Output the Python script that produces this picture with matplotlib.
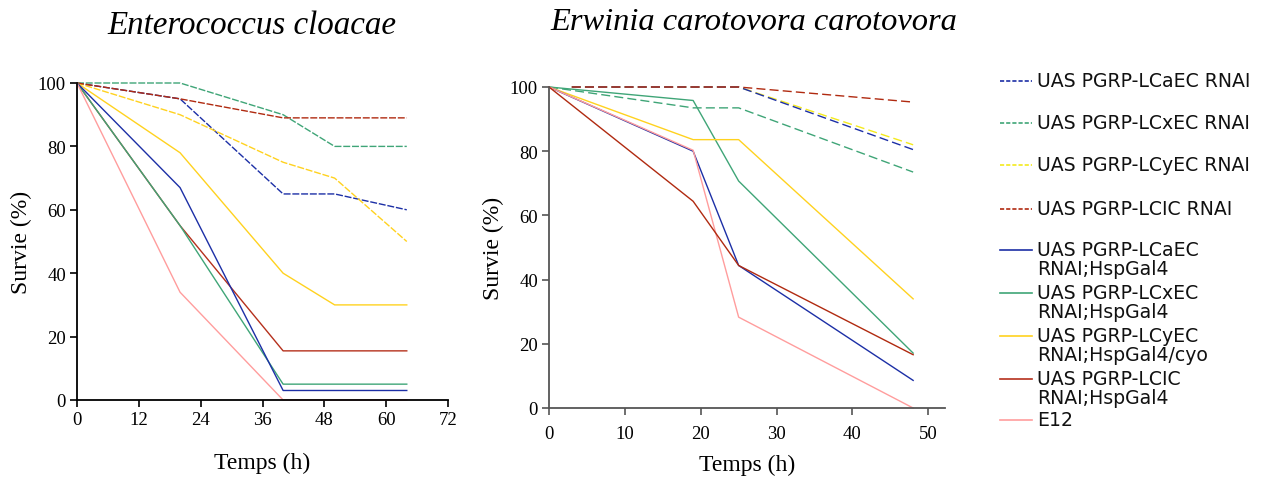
import matplotlib
matplotlib.use("Agg")
import matplotlib.pyplot as plt

# Enterococcus cloacae (left)
ec_time = [0, 20, 40, 50, 64]
ec_lcaec_rnai = [100, 95, 65, 65, 60]
ec_lcxec_rnai = [100, 100, 90, 80, 80]
ec_lcyec_rnai = [100, 90, 75, 70, 50]
ec_lcic_rnai = [100, 95, 89, 89, 89]
ec_lcaec_gal4 = [100, 67, 3, 3, 3]
ec_lcxec_gal4 = [100, 55, 5, 5, 5]
ec_lcyec_gal4 = [100, 78, 40, 30, 30]
ec_lcic_gal4 = [100, 55, 15.5, 15.5, 15.5]
ec_e12 = [100, 34, 0, 0, 0]

# Erwinia carotovora carotovora (right)
er_time = [0, 19, 25, 48]
er_time_late = [3, 19, 25, 48]
er_lcaec_rnai = [100, 100, 100, 80.5]
er_lcxec_rnai = [100, 93.5, 93.5, 73.5]
er_lcyec_rnai = [100, 100, 100, 82]
er_lcic_rnai = [100, 100, 100, 95.3]
er_lcaec_gal4 = [100, 80, 44.4, 8.6]
er_lcxec_gal4 = [100, 95.8, 70.7, 17.1]
er_lcyec_gal4 = [100, 83.6, 83.6, 34]
er_lcic_gal4 = [100, 64.4, 44.4, 16.6]
er_e12 = [100, 80.3, 28.3, 0]

legend_labels = [
    "UAS PGRP-LCaEC RNAI",
    "UAS PGRP-LCxEC RNAI",
    "UAS PGRP-LCyEC RNAI",
    "UAS PGRP-LCIC RNAI",
    "UAS PGRP-LCaEC\nRNAI;HspGal4",
    "UAS PGRP-LCxEC\nRNAI;HspGal4",
    "UAS PGRP-LCyEC\nRNAI;HspGal4/cyo",
    "UAS PGRP-LCIC\nRNAI;HspGal4",
    "E12",
]

BLUE = "#1c2fa6"
GREEN = "#3fa577"
YELLOW = "#ffd21f"
BRIGHT_YELLOW = "#f4ea1c"
DRED = "#b02a10"
RED = "#b5301c"
PINK = "#ff9d9d"

serif = ["Liberation Serif", "DejaVu Serif"]

fig = plt.figure(figsize=(12.62, 4.85), dpi=100)
W, H = 1262.0, 485.0


def px_axes(x0, y_top, x1, y_bot):
    return fig.add_axes([x0 / W, 1 - y_bot / H, (x1 - x0) / W, (y_bot - y_top) / H])


def style(ax, spine_color):
    for s in ["top", "right"]:
        ax.spines[s].set_visible(False)
    for s in ["left", "bottom"]:
        ax.spines[s].set_color(spine_color)
        ax.spines[s].set_linewidth(1.3)
    ax.tick_params(direction="out", length=5, width=1.2, color=spine_color,
                   labelsize=13.5, pad=3)
    for lab in ax.get_xticklabels() + ax.get_yticklabels():
        lab.set_family(serif)
    ax.set_ylabel("Survie (%)", family=serif, fontsize=17)


dash_l = (5, 1.3)
lw = 1.0

# left chart
ax1 = px_axes(77, 84, 448, 401)
ax1.plot(ec_time, ec_lcaec_rnai, color=BLUE, lw=lw, dashes=dash_l, clip_on=False)
ax1.plot(ec_time, ec_lcxec_rnai, color=GREEN, lw=lw, dashes=dash_l, clip_on=False)
ax1.plot(ec_time, ec_lcyec_rnai, color=YELLOW, lw=lw, dashes=dash_l, clip_on=False)
ax1.plot(ec_time, ec_lcic_rnai, color=DRED, lw=lw, dashes=dash_l, clip_on=False)
ax1.plot(ec_time, ec_lcyec_gal4, color=YELLOW, lw=lw, clip_on=False)
ax1.plot(ec_time, ec_lcic_gal4, color=RED, lw=lw, clip_on=False)
ax1.plot(ec_time, ec_lcxec_gal4, color=GREEN, lw=lw, clip_on=False)
ax1.plot(ec_time, ec_lcaec_gal4, color=BLUE, lw=lw, clip_on=False)
ax1.plot(ec_time, ec_e12, color=PINK, lw=lw, clip_on=False)
ax1.set_xlim(0, 72)
ax1.set_ylim(0, 100)
ax1.set_xticks(range(0, 73, 12))
ax1.set_yticks(range(0, 101, 20))
style(ax1, "black")
ax1.set_xlabel("Temps (h)", family=serif, fontsize=17, labelpad=17)

# right chart
dash_r = (6.5, 3)
ax2 = px_axes(549, 88, 945, 409)
ax2.plot(er_time_late, er_lcyec_rnai, color=BRIGHT_YELLOW, lw=lw, dashes=dash_r, clip_on=False)
ax2.plot(er_time_late, er_lcaec_rnai, color=BLUE, lw=lw, dashes=dash_r, clip_on=False)
ax2.plot(er_time, er_lcxec_rnai, color=GREEN, lw=lw, dashes=dash_r, clip_on=False)
ax2.plot(er_time_late, er_lcic_rnai, color=DRED, lw=lw, dashes=dash_r, clip_on=False)
ax2.plot(er_time, er_lcxec_gal4, color=GREEN, lw=lw, clip_on=False)
ax2.plot(er_time, er_lcyec_gal4, color=YELLOW, lw=lw, clip_on=False)
ax2.plot(er_time, er_lcaec_gal4, color=BLUE, lw=lw, clip_on=False)
ax2.plot(er_time, er_e12, color=PINK, lw=lw, clip_on=False)
ax2.plot(er_time, er_lcic_gal4, color=DRED, lw=lw, clip_on=False)
ax2.set_xlim(0, 52.2)
ax2.set_ylim(0, 100)
ax2.set_xticks(range(0, 51, 10))
ax2.set_yticks(range(0, 101, 20))
style(ax2, "#555555")
ax2.tick_params(axis="x", pad=7)
ax2.set_xlabel("Temps (h)", family=serif, fontsize=17, labelpad=9)

# titles
fig.text(252 / W, 1 - 26 / H, "Enterococcus cloacae", family=serif,
         style="italic", fontsize=23.8, ha="center", va="center")
fig.text(754 / W, 1 - 22 / H, "Erwinia carotovora carotovora", family=serif,
         style="italic", fontsize=23.4, ha="center", va="center")

# legend, drawn in a pixel-scaled axes
leg = px_axes(998, 0, 1262, 485)
leg.set_xlim(0, 264)
leg.set_ylim(485, 0)
leg.axis("off")
leg_colors = [BLUE, GREEN, BRIGHT_YELLOW, DRED, BLUE, GREEN, YELLOW, RED, PINK]
leg_dashed = [True, True, True, True, False, False, False, False, False]
leg_y = [82, 124, 166, 210, 251, 294, 337, 380, 421]
for lab, c, d, y in zip(legend_labels, leg_colors, leg_dashed, leg_y):
    kw = {"dashes": (2.5, 1.2)} if d else {}
    leg.plot([2, 34], [y, y], color=c, lw=1.2, **kw)
    leg.text(39, y - 10, lab, fontsize=13.6, family="DejaVu Sans", va="top",
             ha="left", linespacing=0.98, color="#111111")

fig.savefig("out.png", dpi=100)
